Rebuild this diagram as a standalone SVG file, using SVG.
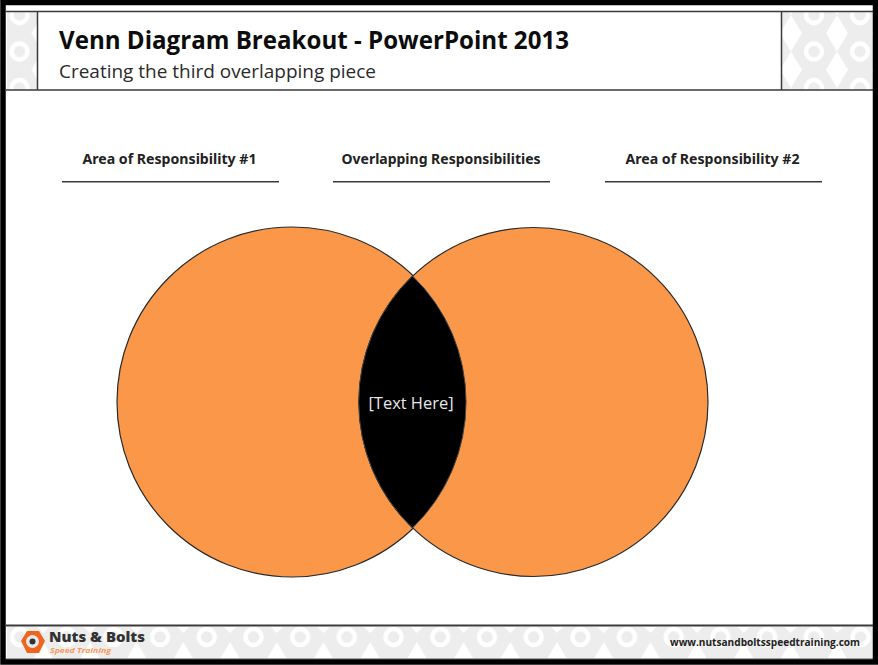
<svg xmlns="http://www.w3.org/2000/svg" width="878" height="665" viewBox="0 0 878 665">
<style>
text{font-family:"Open Sans","Noto Sans","Liberation Sans",sans-serif}
.rule{stroke:#3a3a3a;fill:none}
.head{font-size:14px;font-weight:700;fill:#222;text-anchor:middle;font-family:"Noto Sans","Liberation Sans",sans-serif}
.disc{fill:#fb9748;stroke:#2a2a2a;stroke-width:1.200}
</style>
<defs>
<pattern id="hp" patternUnits="userSpaceOnUse" x="791" y="15" width="46" height="36.500">
<rect width="46" height="36.500" fill="#ededed"/>
<path d="M0 0 L11 18.250 L0 36.500 L-11 18.250Z M46 0 L57 18.250 L46 36.500 L35 18.250Z" fill="#fff"/>
<circle cx="23" cy="0" r="8" fill="none" stroke="#fff" stroke-width="4.500"/>
<circle cx="23" cy="36.500" r="8" fill="none" stroke="#fff" stroke-width="4.500"/>
</pattern>
<pattern id="hl" href="#hp" x="-3.500"/>
<pattern id="fp" patternUnits="userSpaceOnUse" x="136.700" y="627" width="46.700" height="32">
<rect width="46.700" height="32" fill="#ededed"/>
<circle cx="23.350" cy="10" r="8" fill="none" stroke="#fff" stroke-width="4.500"/>
<path d="M-10 32 L0 15 L10 32Z M36.700 32 L46.700 15 L56.700 32Z M-6 0 L0 6 L6 0Z M40.700 0 L46.700 6 L52.700 0Z" fill="#fff"/>
</pattern>
</defs>
<rect width="878" height="665" fill="#fff"/>
<g id="header">
<rect x="7" y="11" width="30" height="79" fill="url(#hl)"/>
<rect x="782" y="12" width="91" height="78" fill="url(#hp)"/>
<path class="rule" stroke-width="1.500" d="M6 11.500H873M6 90H873M37.500 11V90M781.500 11V90"/>
<text x="59" y="49" font-size="24.500" font-weight="700" fill="#0c0c0c" textLength="510" lengthAdjust="spacingAndGlyphs">Venn Diagram Breakout - PowerPoint 2013</text>
<text x="59" y="78" font-size="17.500" fill="#2a2a2a" textLength="317" lengthAdjust="spacingAndGlyphs">Creating the third overlapping piece</text>
</g>
<g id="label-1">
<text class="head" x="169.500" y="164" textLength="174" lengthAdjust="spacingAndGlyphs">Area of Responsibility #1</text>
<path class="rule" stroke-width="1.500" d="M62 181.700H279"/>
</g>
<g id="label-overlap">
<text class="head" x="441" y="164" textLength="199" lengthAdjust="spacingAndGlyphs">Overlapping Responsibilities</text>
<path class="rule" stroke-width="1.500" d="M333 181.700H550"/>
</g>
<g id="label-2">
<text class="head" x="712.500" y="164" textLength="174" lengthAdjust="spacingAndGlyphs">Area of Responsibility #2</text>
<path class="rule" stroke-width="1.500" d="M605 181.700H822"/>
</g>
<g id="circle-left"><circle class="disc" cx="292" cy="402" r="175"/></g>
<g id="circle-right"><circle class="disc" cx="533.500" cy="402" r="174.500"/></g>
<g id="overlap">
<path d="M412.500 276 A175 175 0 0 1 412.500 528 A174.500 174.500 0 0 1 412.500 276Z" fill="#000" stroke="#444" stroke-width="1"/>
<text x="411" y="409" font-size="15.500" fill="#e8e8e8" text-anchor="middle" textLength="85" lengthAdjust="spacingAndGlyphs">[Text Here]</text>
</g>
<g id="footer">
<rect x="7" y="627" width="866" height="32" fill="url(#fp)"/>
<path class="rule" stroke-width="2" d="M6 625.500H873"/>
<path stroke="#8a8a8a" stroke-width="1.500" d="M6 659H873"/>
<path d="M21 641 L27 631 H39 L45 641 L39 653 H27Z" fill="#f0641e"/>
<circle cx="32.500" cy="641.500" r="6.500" fill="#e8e8e8"/>
<circle cx="32.500" cy="641.500" r="3" fill="#333"/>
<text x="49" y="642" font-size="14" font-weight="800" fill="#333" textLength="96" lengthAdjust="spacingAndGlyphs">Nuts &amp; Bolts</text>
<text x="50" y="653" font-size="7.500" font-style="italic" font-weight="700" fill="#fa9a5a" textLength="61" lengthAdjust="spacingAndGlyphs">Speed Training</text>
<text x="670" y="646" font-size="10" font-weight="700" fill="#222" textLength="190" lengthAdjust="spacingAndGlyphs">www.nutsandboltsspeedtraining.com</text>
</g>
<g id="frame">
<rect x="3" y="2.500" width="872.500" height="659.500" fill="none" stroke="#000" stroke-width="5.500"/>
</g>
</svg>
